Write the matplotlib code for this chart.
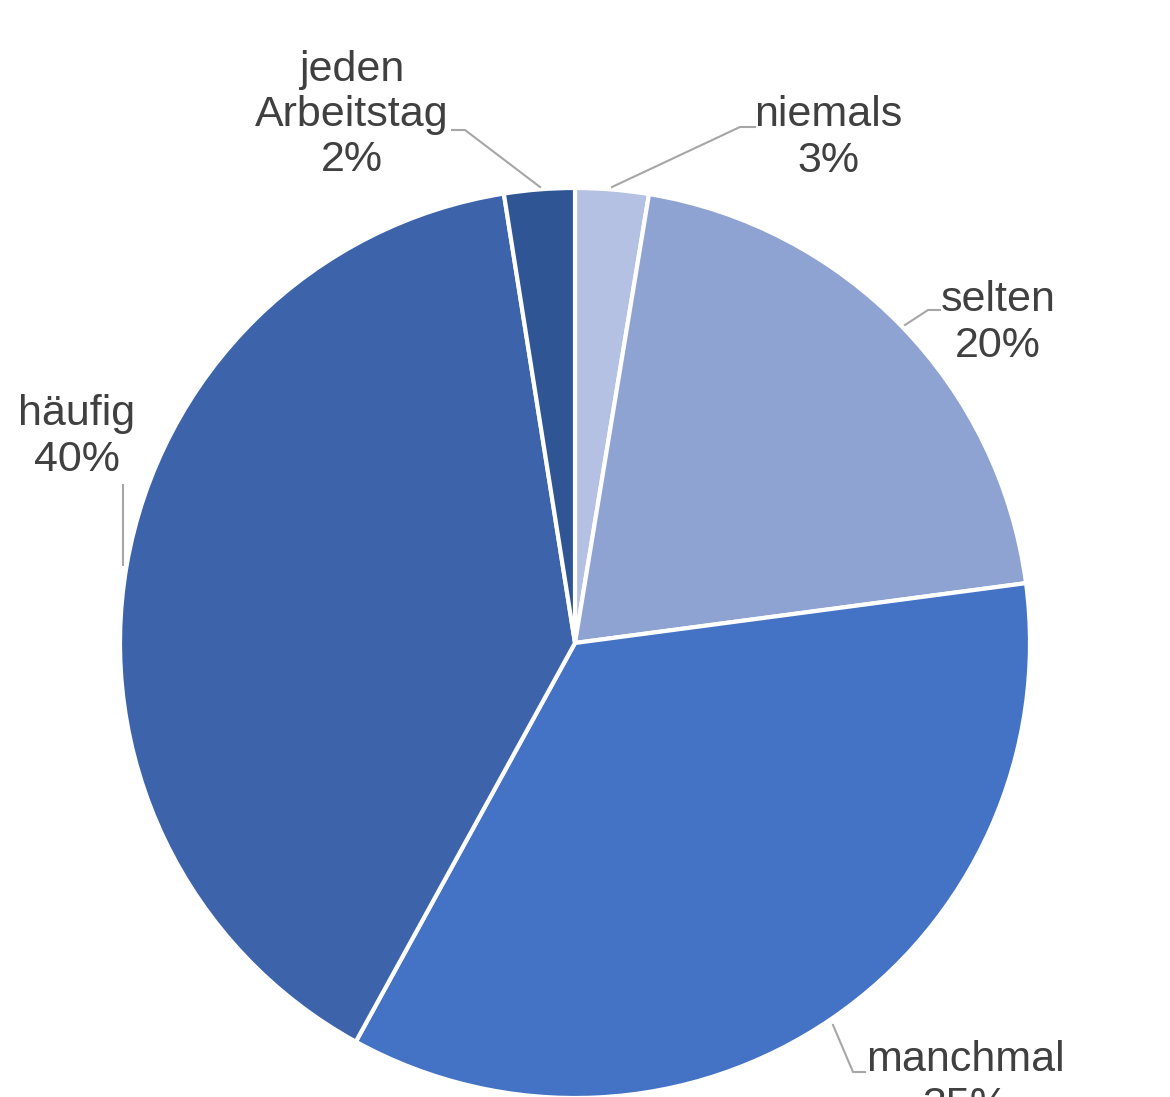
import matplotlib
matplotlib.use("Agg")
import matplotlib.pyplot as plt

# share of answers, clockwise from 12 o'clock
labels = ["niemals", "selten", "manchmal", "häufig", "jeden\nArbeitstag"]
values = [2.6, 20.3, 35.1, 39.5, 2.5]
pct_text = ["3%", "20%", "35%", "40%", "2%"]
colors = ["#B4C1E2", "#8FA3D3", "#4472C4", "#3D64AB", "#2F5595"]

plt.rcParams['font.family'] = ['Liberation Sans', 'DejaVu Sans']

W, H = 1170, 1097
fig = plt.figure(figsize=(W / 100, H / 100), dpi=100)
ax = fig.add_axes([0, 0, 1, 1])

cx, cy, r = 575, H - 643, 455
ax.pie(values, colors=colors, startangle=90, counterclock=False,
       center=(cx, cy), radius=r, frame=True,
       wedgeprops=dict(edgecolor="white", linewidth=3))
ax.set_xlim(0, W)
ax.set_ylim(0, H)
ax.axis("off")

# label positions (pixel, top-down) and leader lines
label_pos = [(828, 138), (998, 323), (965, 1083), (77, 437), (352, 115)]
leaders = [
    [(612, 187), (740, 127), (755, 127)],
    [(905, 325), (928, 310), (940, 310)],
    [(833, 1025), (853, 1072), (865, 1072)],
    [(123, 485), (123, 565)],
    [(540, 187), (465, 130), (452, 130)],
]

for lab, pct, (x, y), pts in zip(labels, pct_text, label_pos, leaders):
    ax.text(x, H - y, lab + "\n" + pct, ha="center", va="center",
            fontsize=31, color="#404040", linespacing=1.17)
    ax.plot([p[0] for p in pts], [H - p[1] for p in pts],
            color="#A6A6A6", lw=1.5)

fig.savefig("out.png", dpi=100)
